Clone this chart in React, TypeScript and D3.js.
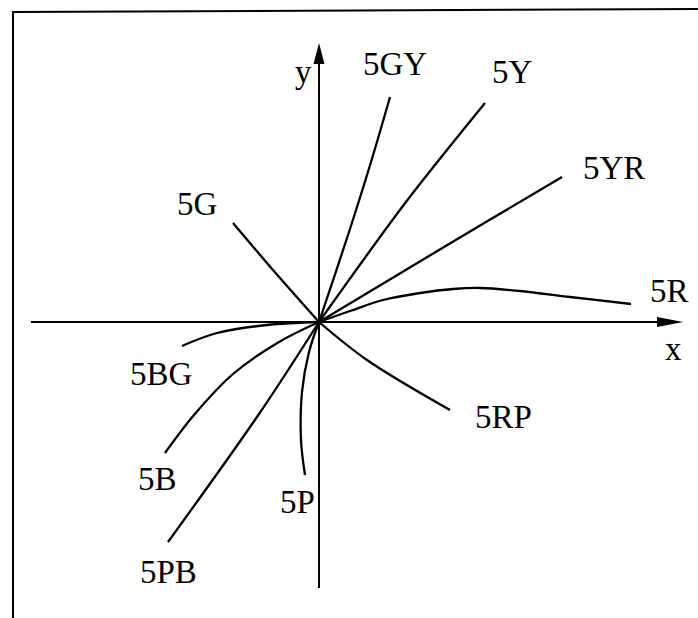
import React from "react";
import * as d3 from "d3";

// Hue lines radiating from the origin (x, y in chart units; origin = 0,0)
const hueNames = ["5R", "5YR", "5Y", "5GY", "5G", "5BG", "5B", "5PB", "5P", "5RP"];
const hue5R: [number, number][] = [[0, 0], [31, 11], [64, 22], [101, 29], [134, 33], [161, 34], [201, 31], [251, 25], [312, 18]];
const hue5YR: [number, number][] = [[0, 0], [120, 72], [243, 145]];
const hue5Y: [number, number][] = [[0, 0], [40, 56], [90, 124], [166, 219]];
const hue5GY: [number, number][] = [[0, 0], [30, 90], [52, 160], [71, 225]];
const hue5G: [number, number][] = [[0, 0], [-46, 52], [-86, 99]];
const hue5BG: [number, number][] = [[0, 0], [-52, -3], [-102, -11], [-137, -24]];
const hue5B: [number, number][] = [[0, 0], [-40, -20], [-86, -52], [-125, -93], [-154, -131]];
const hue5PB: [number, number][] = [[0, 0], [-60, -92], [-151, -220]];
const hue5P: [number, number][] = [[0, 0], [-10, -30], [-17, -70], [-18, -118], [-14, -153]];
const hue5RP: [number, number][] = [[0, 0], [48, -38], [131, -88]];
const hueSeries = [hue5R, hue5YR, hue5Y, hue5GY, hue5G, hue5BG, hue5B, hue5PB, hue5P, hue5RP];

// Axis extents (chart units)
const xExtent = [-288, 364];
const yExtent = [-266, 279];
const axisNames = ["x", "y"];

// Label layout (chart units, left/baseline)
const labelPos: [number, number][] = [
  [331, 20], [264, 143], [173, 239], [44, 247], [-142, 107],
  [-189, -63], [-181, -168], [-179, -261], [-39, -191], [156, -106],
];
const axisLabelPos: [number, number][] = [[346, -38], [-24, 239]];

const W = 698;
const H = 618;
const ox = 319;
const oy = 322;

export default function App() {
  const xs = d3.scaleLinear().domain([0, 100]).range([ox, ox + 100]);
  const ys = d3.scaleLinear().domain([0, 100]).range([oy, oy - 100]);
  const line = d3
    .line<[number, number]>()
    .x((d) => xs(d[0]))
    .y((d) => ys(d[1]))
    .curve(d3.curveCatmullRom.alpha(0.5));

  const xL = xs(xExtent[0]);
  const xR = xs(xExtent[1]);
  const yB = ys(yExtent[0]);
  const yT = ys(yExtent[1]);
  const font = "'Liberation Serif', 'Times New Roman', serif";

  return (
    <svg
      width={W}
      height={H}
      style={{ position: "absolute", left: 0, top: 0, background: "#fff" }}
    >
      {/* frame (top and left) */}
      <line x1={12} y1={12} x2={698} y2={9} stroke="#000" strokeWidth={2} />
      <line x1={13} y1={12} x2={13} y2={618} stroke="#000" strokeWidth={2} />

      {/* axes */}
      <line x1={xL} y1={oy} x2={xR - 20} y2={oy} stroke="#000" strokeWidth={2} />
      <path
        d={`M${xR},${oy} L${xR - 26},${oy - 5} L${xR - 26},${oy + 5} Z`}
        fill="#000"
      />
      <line x1={ox} y1={yB} x2={ox} y2={yT + 15} stroke="#000" strokeWidth={2} />
      <path
        d={`M${ox},${yT} L${ox - 5.5},${yT + 21} L${ox + 5.5},${yT + 21} Z`}
        fill="#000"
      />

      {/* hue lines */}
      {hueSeries.map((s, i) => (
        <path
          key={hueNames[i]}
          d={line(s) || ""}
          fill="none"
          stroke="#000"
          strokeWidth={2.3}
        />
      ))}
      <circle cx={ox} cy={oy} r={3} fill="#000" />

      {/* labels */}
      {hueNames.map((n, i) => (
        <text
          key={"l" + n}
          x={xs(labelPos[i][0])}
          y={ys(labelPos[i][1])}
          fontFamily={font}
          fontSize={33}
          fill="#000"
        >
          {n}
        </text>
      ))}
      {axisNames.map((n, i) => (
        <text
          key={"a" + n}
          x={xs(axisLabelPos[i][0])}
          y={ys(axisLabelPos[i][1])}
          fontFamily={font}
          fontSize={33}
          fill="#000"
        >
          {n}
        </text>
      ))}
    </svg>
  );
}
